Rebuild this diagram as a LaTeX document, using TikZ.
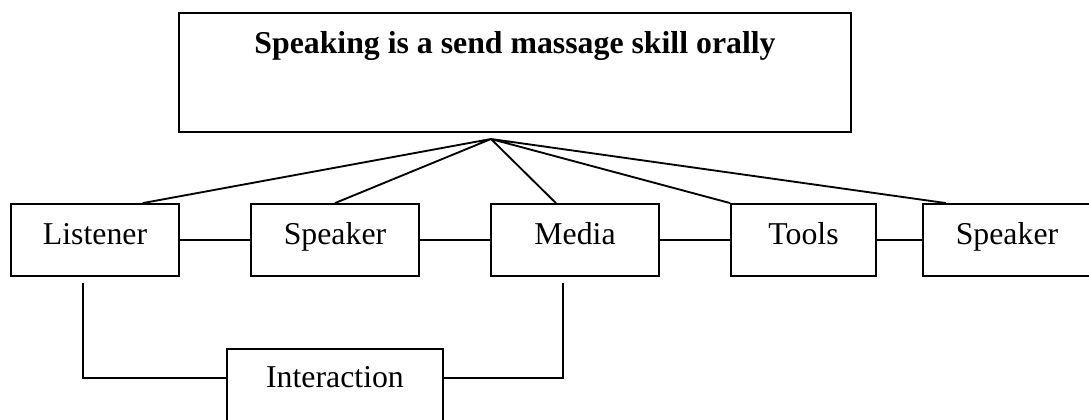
\documentclass[tikz,border=0pt]{standalone}
\usepackage{fontspec}
\setmainfont{Liberation Serif}
\begin{document}
\begin{tikzpicture}[x=0.3774pt, y=-0.3774pt, line width=0.7pt,
	every node/.style={text centered, font=\fontsize{12pt}{14pt}\selectfont},
	item/.style={rectangle, draw, inner sep=0pt, minimum width=63.4pt, minimum height=27.17pt,
		text height=0.7em, text depth=0.35em}]
	\useasboundingbox (0, 0) rectangle (1089, 419);

	\node[rectangle, draw, anchor=north, inner sep=0pt, minimum width=253.6pt,
		text height=15.47pt, text depth=29.44pt, font=\fontsize{12pt}{14pt}\selectfont\bfseries]
		(title) at (515, 12) {Speaking is a send massage skill orally};

	\node[item] (listener) at (95, 240) {Listener};
	\node[item] (speaker) at (335, 240) {Speaker};
	\node[item] (media) at (575, 240) {Media};
	\node[item, minimum width=54.7pt] (tools) at (803.5, 240) {Tools};
	\node[item] (speakerb) at (1007, 240) {Speaker};
	\node[item, minimum width=81.5pt, text depth=0.52em] (interaction) at (335, 385) {Interaction};

	\coordinate (apex) at (491, 139);
	\draw (apex) -- ([xshift=-14pt]listener.north east)
		(apex) -- (speaker.north)
		(apex) -- ([xshift=-7.2pt]media.north)
		(apex) -- (tools.north west)
		(apex) -- ([xshift=9pt]speakerb.north west);

	\draw (listener) -- (speaker)
		(speaker) -- (media)
		(media) -- (tools)
		(tools) -- (speakerb);

	\draw ([xshift=-4.5pt, yshift=-2.3pt]listener.south) |- ([yshift=2.6pt]interaction.west);
	\draw ([xshift=-4.5pt, yshift=-2.3pt]media.south) |- ([yshift=2.6pt]interaction.east);
\end{tikzpicture}
\end{document}
